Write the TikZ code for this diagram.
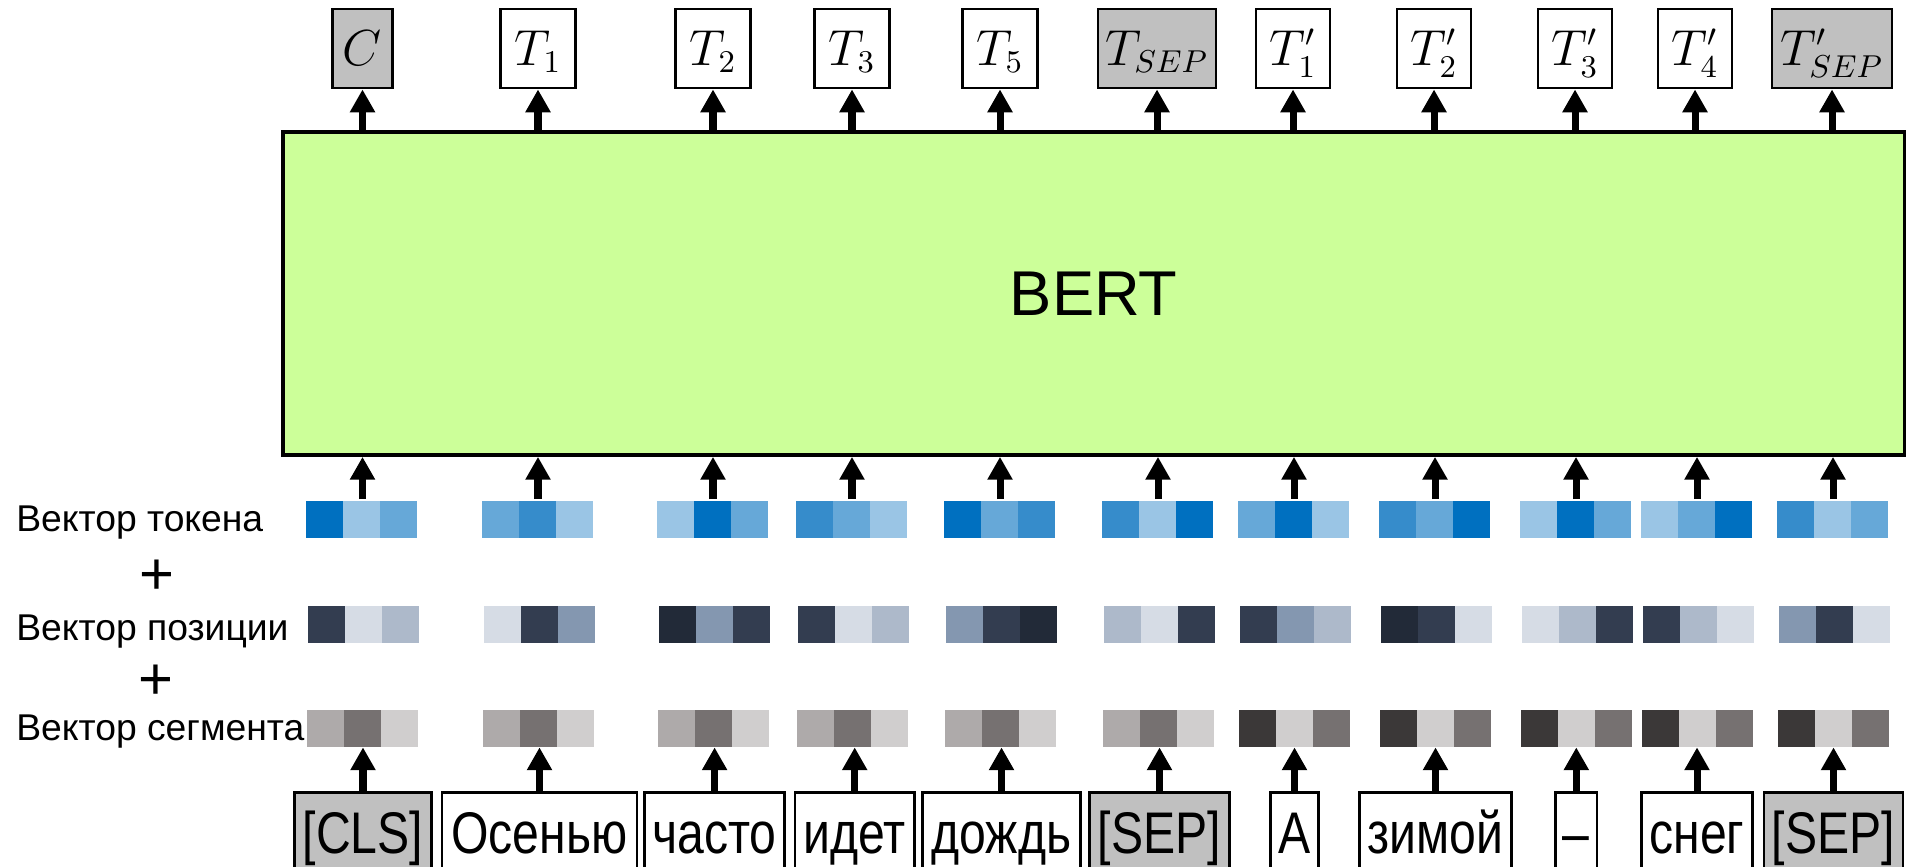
\documentclass[tikz,border=0pt]{standalone}
\usepackage[no-math]{fontspec}
\setmainfont{Liberation Sans}
\newfontfamily\narrowfont[FakeStretch=0.82]{Liberation Sans}
\usepackage{xcolor}
\definecolor{bertgreen}{HTML}{CCFF99}
\definecolor{boxgray}{HTML}{C0C0C0}
\definecolor{blueA}{HTML}{0070C0}
\definecolor{blueB}{HTML}{368CCB}
\definecolor{blueC}{HTML}{66A8D8}
\definecolor{blueD}{HTML}{9AC5E5}
\definecolor{slateA}{HTML}{222A38}
\definecolor{slateB}{HTML}{333D50}
\definecolor{slateC}{HTML}{8497B0}
\definecolor{slateD}{HTML}{ADB9CA}
\definecolor{slateE}{HTML}{D6DCE5}
\definecolor{greyA}{HTML}{3B3838}
\definecolor{greyB}{HTML}{767171}
\definecolor{greyC}{HTML}{AEAAAA}
\definecolor{greyD}{HTML}{D0CECE}
\usepackage{tikz}
\usetikzlibrary{arrows.meta}
\tikzset{
  outbox/.style ={rectangle, draw=black, line width=0.8pt, fill=white, inner sep=0pt,
                  minimum height=0.79cm, text height=0.45cm, text depth=0.12cm, font=\fontsize{13.5}{15}\selectfont},
  outboxg/.style={outbox, fill=boxgray},
  inbox/.style  ={rectangle, draw=black, line width=0.8pt, fill=white, anchor=north, inner sep=0pt,
                  text height=0.61cm, text depth=0.4cm, font=\narrowfont\fontsize{16.7}{19}\selectfont},
  inboxg/.style ={inbox, fill=boxgray},
  bertbox/.style={rectangle, draw=black, line width=1pt, fill=bertgreen, inner sep=0pt,
                  font=\fontsize{18}{21}\selectfont},
  vecbox/.style ={rectangle, inner sep=0pt, minimum width=1.11cm, minimum height=0.377cm},
  upar/.style   ={-{Triangle[width=6.8pt, length=6.5pt]}, line width=2pt},
  rowlbl/.style ={anchor=base west, inner sep=0pt, font=\fontsize{10.6}{12}\selectfont},
  pluslbl/.style={inner sep=0pt, font=\fontsize{17}{20}\selectfont},
}

\begin{document}
\begin{tikzpicture}[x=0.01cm, y=0.01cm]
  \useasboundingbox (0,0) rectangle (1916,866);

  % модель
  \node[bertbox, minimum width=16.205cm, minimum height=3.23cm] (bert) at (1093.75,572.5) {BERT};

  % выходы
  \foreach \i/\x/\w/\lab/\st in {1/362.5/0.60/C/outboxg, 2/538/0.75/T_1/outbox, 3/713/0.75/T_2/outbox,
      4/852/0.75/T_3/outbox, 5/1000/0.75/T_5/outbox, 6/1157/1.18/T_{SEP}/outboxg, 7/1293/0.74/T'_1/outbox,
      8/1434/0.74/T'_2/outbox, 9/1575/0.74/T'_3/outbox, 10/1695/0.74/T'_4/outbox, 11/1832/1.20/T'_{SEP}/outboxg}
  {
    \node[\st, minimum width=\w cm] (out\i) at (\x,817.5) {$\lab$};
    \draw[upar] (bert.north -| out\i) -- (out\i.south);
  }

  % вектор токена
  \foreach \i/\x/\ca/\cb/\cc in {1/362.5/blueA/blueD/blueC, 2/538/blueC/blueB/blueD, 3/713/blueD/blueA/blueC,
      4/852/blueB/blueC/blueD, 5/1000/blueA/blueC/blueB, 6/1158/blueB/blueD/blueA, 7/1294/blueC/blueA/blueD,
      8/1435/blueB/blueC/blueA, 9/1576/blueD/blueA/blueC, 10/1697/blueD/blueC/blueA, 11/1833/blueB/blueD/blueC}
  {
    \node[vecbox] (tok\i) at (\x,347.2) {};
    \fill[\ca] (tok\i.south west) rectangle ++(37,37.7);
    \fill[\cb] (tok\i.south west) ++(37,0) rectangle ++(37,37.7);
    \fill[\cc] (tok\i.south west) ++(74,0) rectangle ++(37,37.7);
    \draw[upar] (tok\i.north) -- (tok\i.north |- bert.south);
  }

  % вектор позиции
  \foreach \i/\x/\ca/\cb/\cc in {1/362.5/slateB/slateE/slateD, 2/538/slateE/slateB/slateC, 3/713/slateA/slateC/slateB,
      4/852/slateB/slateE/slateD, 5/1000/slateC/slateB/slateA, 6/1158/slateD/slateE/slateB, 7/1294/slateB/slateC/slateD,
      8/1435/slateA/slateB/slateE, 9/1576/slateE/slateD/slateB, 10/1697/slateB/slateD/slateE, 11/1833/slateC/slateB/slateE}
  {
    \node[vecbox] (pos\i) at (\x+2,242.2) {};
    \fill[\ca] (pos\i.south west) rectangle ++(37,37.7);
    \fill[\cb] (pos\i.south west) ++(37,0) rectangle ++(37,37.7);
    \fill[\cc] (pos\i.south west) ++(74,0) rectangle ++(37,37.7);
  }

  % вектор сегмента
  \foreach \i/\x/\ca/\cb/\cc in {1/362.5/greyC/greyB/greyD, 2/538/greyC/greyB/greyD, 3/713/greyC/greyB/greyD,
      4/852/greyC/greyB/greyD, 5/1000/greyC/greyB/greyD, 6/1158/greyC/greyB/greyD, 7/1294/greyA/greyD/greyB,
      8/1435/greyA/greyD/greyB, 9/1576/greyA/greyD/greyB, 10/1697/greyA/greyD/greyB, 11/1833/greyA/greyD/greyB}
  {
    \node[vecbox] (seg\i) at (\x+1,138.2) {};
    \fill[\ca] (seg\i.south west) rectangle ++(37,37.7);
    \fill[\cb] (seg\i.south west) ++(37,0) rectangle ++(37,37.7);
    \fill[\cc] (seg\i.south west) ++(74,0) rectangle ++(37,37.7);
  }

  % входные токены
  \foreach \i/\x/\w/\lab/\st in {1/363/1.37/{[CLS]}/inboxg, 2/539.5/1.95/Осенью/inbox, 3/714.6/1.40/часто/inbox,
      4/854.7/1.195/идет/inbox, 5/1001.5/1.575/дождь/inbox, 6/1159.5/1.40/{[SEP]}/inboxg, 7/1294.5/0.475/А/inbox,
      8/1435.5/1.525/зимой/inbox, 9/1576.3/0.415/–/inbox, 10/1697/1.115/снег/inbox, 11/1833.5/1.39/{[SEP]}/inboxg}
  {
    \node[\st, minimum width=\w cm] (in\i) at (\x,74.8) {\lab};
    \draw[upar] (in\i.north) -- (seg\i.south -| in\i.north);
  }

  % подписи строк
  \node[rowlbl] (lbltok) at (15.6,334.3) {Вектор токена};
  \node[pluslbl] (plus1) at (157,289) {+};
  \node[rowlbl] (lblpos) at (15.6,226) {Вектор позиции};
  \node[pluslbl] (plus2) at (156,184) {+};
  \node[rowlbl] (lblseg) at (15.6,126) {Вектор сегмента};
\end{tikzpicture}
\end{document}
